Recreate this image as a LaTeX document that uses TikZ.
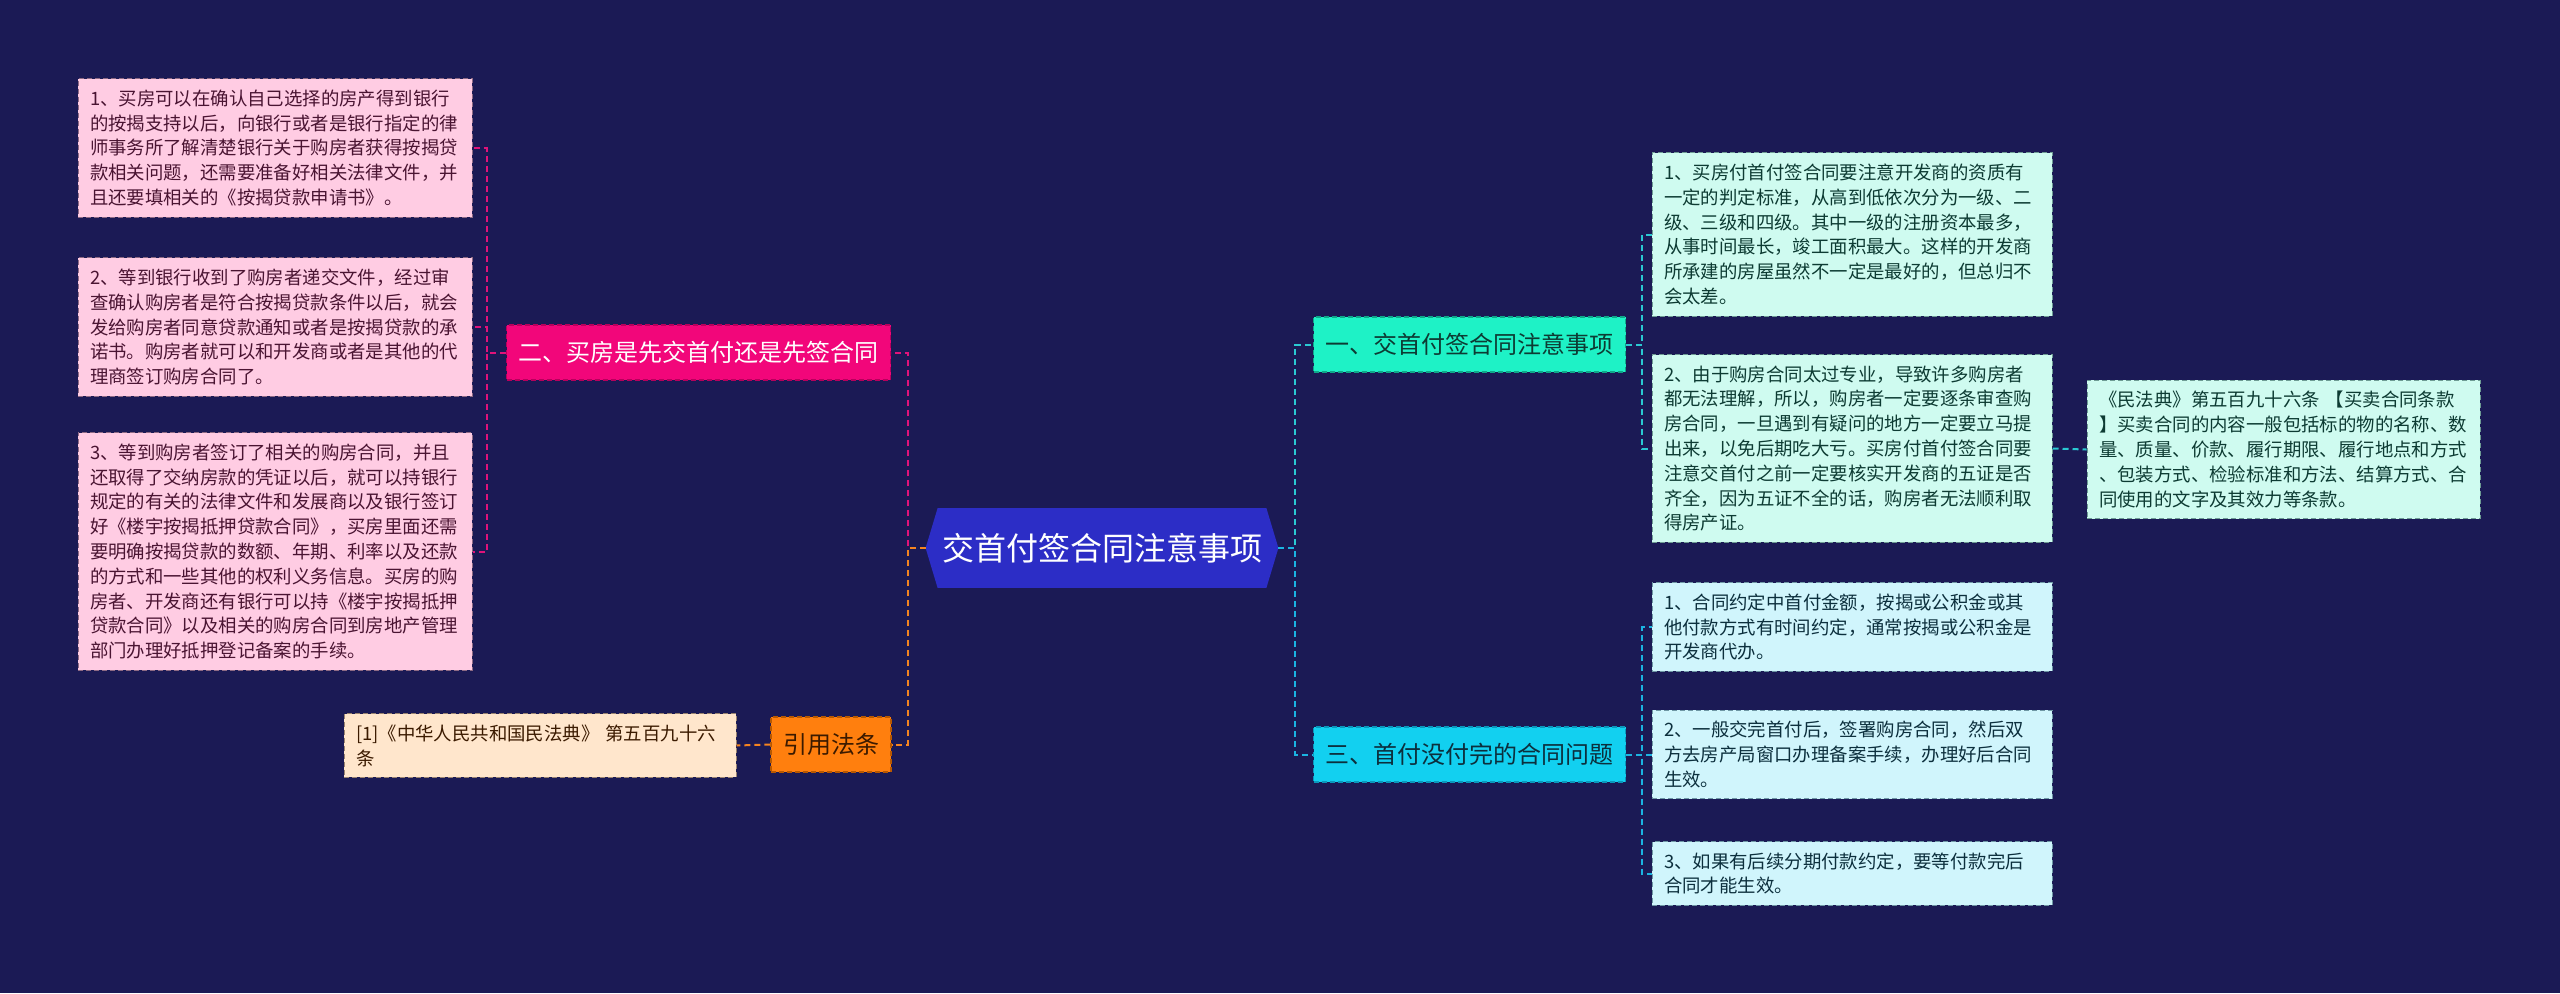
\documentclass[tikz,border=0pt]{standalone}
\usepackage{fontspec}
\setmainfont{Noto Sans CJK SC}
\usepackage{xcolor}
\usetikzlibrary{backgrounds}
\definecolor{navy}{HTML}{1B1A55}
\definecolor{hubfill}{HTML}{2C2DC6}
\definecolor{pinkmain}{HTML}{F2067A}
\definecolor{pinkedge}{HTML}{B8005C}
\definecolor{pinkleaf}{HTML}{FFCCE3}
\definecolor{pinkleafedge}{HTML}{8E6A84}
\definecolor{pinktext}{HTML}{4A1432}
\definecolor{pinkline}{HTML}{E0137A}
\definecolor{aqua}{HTML}{1EF2C6}
\definecolor{aquaedge}{HTML}{0FA88A}
\definecolor{aquatext}{HTML}{0D3B33}
\definecolor{mint}{HTML}{CFFBF0}
\definecolor{mintedge}{HTML}{6E9C94}
\definecolor{tealline}{HTML}{2AC9D2}
\definecolor{cyanmain}{HTML}{12D0F0}
\definecolor{cyanedge}{HTML}{0A98BC}
\definecolor{cyantext}{HTML}{0C2F3D}
\definecolor{ice}{HTML}{D0F5FC}
\definecolor{iceedge}{HTML}{6E97A4}
\definecolor{cyanline}{HTML}{1BB4E2}
\definecolor{orangemain}{HTML}{FF7F0E}
\definecolor{orangeedge}{HTML}{B85800}
\definecolor{orangetext}{HTML}{3B1A00}
\definecolor{peach}{HTML}{FFE6CC}
\definecolor{peachedge}{HTML}{9A8470}
\definecolor{orangeline}{HTML}{F5841F}

\begin{document}
\begin{tikzpicture}[
  x=0.5pt,y=-0.5pt,
  hub/.style={minimum width=176pt,minimum height=39.5pt,inner sep=0pt,text=white,font=\fontsize{16}{19}\selectfont},
  branch/.style={draw,dash pattern=on 2.5pt off 1.5pt,line width=0.6pt,inner xsep=6pt,inner ysep=0pt,minimum height=27.5pt,font=\fontsize{12}{14}\selectfont},
  leaf/.style={draw,dash pattern=on 2.5pt off 1.5pt,line width=0.5pt,inner xsep=6pt,inner ysep=5.5pt,align=left,text width=185pt,font=\fontsize{9.2}{12.4}\selectfont},
  lleaf/.style={leaf,fill=pinkleaf,draw=pinkleafedge,text=pinktext},
  mleaf/.style={leaf,fill=mint,draw=mintedge,text=aquatext,text width=188pt},
  ileaf/.style={leaf,fill=ice,draw=iceedge,text=cyantext,text width=188pt},
  link/.style={dash pattern=on 3pt off 2pt,line width=1pt},
  pinklink/.style={link,draw=pinkline},
  orangelink/.style={link,draw=orangeline},
  teallink/.style={link,draw=tealline},
  cyanlink/.style={link,draw=cyanline}
]
\useasboundingbox (0,0) rectangle (2560,993);
\node[hub] (hub) at (1102,548) {交首付签合同注意事项};

\node[branch,fill=pinkmain,draw=pinkedge,text=white] (q2) at (698.5,352.5) {二、买房是先交首付还是先签合同};
\node[branch,fill=orangemain,draw=orangeedge,text=orangetext] (cite) at (831,744.5) {引用法条};
\node[branch,fill=aqua,draw=aquaedge,text=aquatext] (q1) at (1469.5,344.5) {一、交首付签合同注意事项};
\node[branch,fill=cyanmain,draw=cyanedge,text=cyantext] (q3) at (1469.5,754.5) {三、首付没付完的合同问题};

\node[lleaf] (l1) at (275,148) {1、买房可以在确认自己选择的房产得到银行\\的按揭支持以后，向银行或者是银行指定的律\\师事务所了解清楚银行关于购房者获得按揭贷\\款相关问题，还需要准备好相关法律文件，并\\且还要填相关的《按揭贷款申请书》。};
\node[lleaf] (l2) at (275,327) {2、等到银行收到了购房者递交文件，经过审\\查确认购房者是符合按揭贷款条件以后，就会\\发给购房者同意贷款通知或者是按揭贷款的承\\诺书。购房者就可以和开发商或者是其他的代\\理商签订购房合同了。};
\node[lleaf] (l3) at (275,551.5) {3、等到购房者签订了相关的购房合同，并且\\还取得了交纳房款的凭证以后，就可以持银行\\规定的有关的法律文件和发展商以及银行签订\\好《楼宇按揭抵押贷款合同》，买房里面还需\\要明确按揭贷款的数额、年期、利率以及还款\\的方式和一些其他的权利义务信息。买房的购\\房者、开发商还有银行可以持《楼宇按揭抵押\\贷款合同》以及相关的购房合同到房地产管理\\部门办理好抵押登记备案的手续。};
\node[leaf,fill=peach,draw=peachedge,text=orangetext,text width=184pt] (citeleaf) at (540,745.5) {[1]《中华人民共和国民法典》 第五百九十六\\条};

\node[mleaf] (r1a) at (1852,234.5) {1、买房付首付签合同要注意开发商的资质有\\一定的判定标准，从高到低依次分为一级、二\\级、三级和四级。其中一级的注册资本最多，\\从事时间最长，竣工面积最大。这样的开发商\\所承建的房屋虽然不一定是最好的，但总归不\\会太差。};
\node[mleaf] (r1b) at (1852,448.5) {2、由于购房合同太过专业，导致许多购房者\\都无法理解，所以，购房者一定要逐条审查购\\房合同，一旦遇到有疑问的地方一定要立马提\\出来，以免后期吃大亏。买房付首付签合同要\\注意交首付之前一定要核实开发商的五证是否\\齐全，因为五证不全的话，购房者无法顺利取\\得房产证。};
\node[mleaf,text width=184.5pt] (law) at (2283.5,449.5) {《民法典》第五百九十六条 【买卖合同条款\\】买卖合同的内容一般包括标的物的名称、数\\量、质量、价款、履行期限、履行地点和方式\\、包装方式、检验标准和方法、结算方式、合\\同使用的文字及其效力等条款。};

\node[ileaf] (r3a) at (1852,627) {1、合同约定中首付金额，按揭或公积金或其\\他付款方式有时间约定，通常按揭或公积金是\\开发商代办。};
\node[ileaf] (r3b) at (1852,754.5) {2、一般交完首付后，签署购房合同，然后双\\方去房产局窗口办理备案手续，办理好后合同\\生效。};
\node[ileaf] (r3c) at (1852,873.5) {3、如果有后续分期付款约定，要等付款完后\\合同才能生效。};

\draw[pinklink] (hub.west) -- ++(-18,0) |- (q2.east);
\draw[orangelink] (hub.west) -- ++(-18,0) |- (cite.east);
\draw[pinklink] (q2.west) -- ++(-19,0) |- (l1.east);
\draw[pinklink] (q2.west) -- ++(-19,0) |- (l2.east);
\draw[pinklink] (q2.west) -- ++(-19,0) |- (l3.east);
\draw[orangelink] (cite.west) -- (citeleaf.east);
\draw[teallink] (hub.east) -- ++(17,0) |- (q1.west);
\draw[cyanlink] (hub.east) -- ++(17,0) |- (q3.west);
\draw[teallink] (q1.east) -- ++(16,0) |- (r1a.west);
\draw[teallink] (q1.east) -- ++(16,0) |- (r1b.west);
\draw[teallink] (r1b.east) -- (law.west);
\draw[cyanlink] (q3.east) -- ++(16,0) |- (r3a.west);
\draw[cyanlink] (q3.east) -- ++(16,0) |- (r3b.west);
\draw[cyanlink] (q3.east) -- ++(16,0) |- (r3c.west);

\begin{scope}[on background layer]
\fill[navy] (0,0) rectangle (2560,993);
\fill[hubfill] ([xshift=6pt]hub.north west) -- ([xshift=-6pt]hub.north east) -- (hub.east)
  -- ([xshift=-6pt]hub.south east) -- ([xshift=6pt]hub.south west) -- (hub.west) -- cycle;
\end{scope}
\end{tikzpicture}
\end{document}
